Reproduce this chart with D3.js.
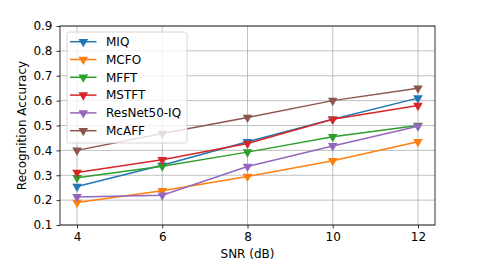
<!DOCTYPE html>
<html><head><meta charset="utf-8">
<script src="https://cdn.jsdelivr.net/npm/d3@7"></script>
<style>body{margin:0;background:#fff;}svg{display:block;font-family:"DejaVu Sans",sans-serif;}</style>
</head><body>
<svg id="c" width="485" height="265"></svg>
<script>
const snr = [4, 6, 8, 10, 12];
const seriesNames = ["MIQ", "MCFO", "MFFT", "MSTFT", "ResNet50-IQ", "McAFF"];
const MIQ = [0.255, 0.34, 0.435, 0.525, 0.61];
const MCFO = [0.19, 0.238, 0.295, 0.358, 0.435];
const MFFT = [0.29, 0.336, 0.393, 0.455, 0.50];
const MSTFT = [0.311, 0.362, 0.428, 0.525, 0.58];
const ResNet = [0.213, 0.22, 0.335, 0.418, 0.497];
const McAFF = [0.40, 0.468, 0.532, 0.60, 0.65];
const yTicks = [0.1, 0.2, 0.3, 0.4, 0.5, 0.6, 0.7, 0.8, 0.9];
const xTicks = [4, 6, 8, 10, 12];
const colors = ["#1f77b4", "#ff7f0e", "#2ca02c", "#d62728", "#9467bd", "#8c564b"];
const allValues = [MIQ, MCFO, MFFT, MSTFT, ResNet, McAFF];

const FS = 12;
const svg = d3.select("#c");
const L = 60, R = 435, T = 26, B = 225;
const x = d3.scaleLinear().domain([3.6, 12.4]).range([L, R]);
const y = d3.scaleLinear().domain([0.1, 0.9]).range([B, T]);

// grid
const g = svg.append("g");
g.selectAll(".gx").data(xTicks).enter().append("line")
  .attr("x1", d => x(d)).attr("x2", d => x(d)).attr("y1", T).attr("y2", B)
  .attr("stroke", "#b0b0b0").attr("stroke-width", 0.8);
g.selectAll(".gy").data(yTicks).enter().append("line")
  .attr("x1", L).attr("x2", R).attr("y1", d => y(d)).attr("y2", d => y(d))
  .attr("stroke", "#b0b0b0").attr("stroke-width", 0.8);

// lines
const line = d3.line().x((d, i) => x(snr[i])).y(d => y(d));
const tri = d3.symbol().type(d3.symbolTriangle).size(40);
allValues.forEach((vals, k) => {
  svg.append("path").datum(vals).attr("d", line)
    .attr("fill", "none").attr("stroke", colors[k]).attr("stroke-width", 1.5);
  svg.selectAll(".m" + k).data(vals).enter().append("path")
    .attr("d", tri)
    .attr("transform", (d, i) => `translate(${x(snr[i])},${y(d)}) rotate(180)`)
    .attr("fill", colors[k]);
});

// axes
const ax = svg.append("g").attr("transform", `translate(0,${B})`)
  .call(d3.axisBottom(x).tickValues(xTicks).tickSize(3.5).tickPadding(4).tickFormat(d3.format("d")));
const ay = svg.append("g").attr("transform", `translate(${L},0)`)
  .call(d3.axisLeft(y).tickValues(yTicks).tickSize(3.5).tickPadding(4).tickFormat(d3.format(".1f")));
[ax, ay].forEach(a => {
  a.select(".domain").remove();
  a.selectAll("text").attr("font-size", FS).attr("fill", "#000").attr("font-family", "DejaVu Sans");
  a.selectAll("line").attr("stroke", "#000").attr("stroke-width", 0.8);
});
svg.append("rect").attr("x", L).attr("y", T).attr("width", R - L).attr("height", B - T)
  .attr("fill", "none").attr("stroke", "#000").attr("stroke-width", 0.8);

// labels
svg.append("text").attr("x", (L + R) / 2).attr("y", 258).attr("text-anchor", "middle")
  .attr("font-size", FS).text("SNR (dB)");
svg.append("text").attr("transform", `translate(26,${(T + B) / 2}) rotate(-90)`)
  .attr("text-anchor", "middle").attr("font-size", FS).text("Recognition Accuracy");

// legend
const lg = svg.append("g");
lg.append("rect").attr("x", 67).attr("y", 32).attr("width", 120).attr("height", 111)
  .attr("rx", 2.5).attr("fill", "#fff").attr("fill-opacity", 0.8)
  .attr("stroke", "#cccccc").attr("stroke-width", 0.8);
seriesNames.forEach((name, k) => {
  const yy = 41.7 + k * 17.8;
  lg.append("line").attr("x1", 70).attr("x2", 96.5).attr("y1", yy).attr("y2", yy)
    .attr("stroke", colors[k]).attr("stroke-width", 1.5);
  lg.append("path").attr("d", tri).attr("transform", `translate(83.3,${yy}) rotate(180)`).attr("fill", colors[k]);
  lg.append("text").attr("x", 106).attr("y", yy).attr("dy", "0.36em").attr("font-size", FS).text(name);
});
</script>
</body></html>
